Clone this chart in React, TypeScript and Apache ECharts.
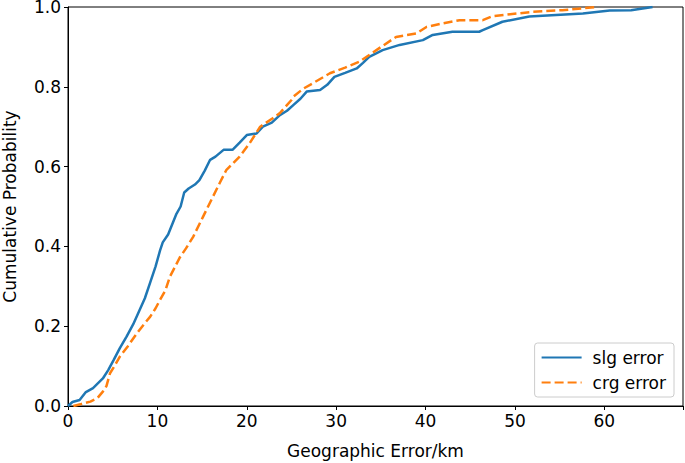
import React, { useEffect, useRef } from "react";
import * as echarts from "echarts";

const slgX = [0, 0.5, 1.3, 2.0, 2.8, 3.9, 4.5, 5.1, 5.8, 6.55, 7.3, 8.0, 8.6, 9.2, 9.8, 10.3, 10.6, 11.2, 12.1, 12.6, 13.0, 13.5, 14.2, 14.7, 15.3, 15.9, 16.5, 17.4, 18.4, 19.2, 20.0, 21.1, 21.8, 22.8, 23.7, 24.5, 25.2, 26.0, 26.7, 28.2, 29.0, 29.8, 31.0, 32.3, 33.0, 33.7, 35.2, 37.1, 39.7, 40.8, 43.0, 46.0, 46.4, 48.6, 51.6, 54.6, 57.6, 60.6, 63.0, 65.4];
const slgY = [0, 0.01, 0.015, 0.035, 0.045, 0.069, 0.09, 0.115, 0.145, 0.174, 0.205, 0.24, 0.27, 0.31, 0.35, 0.39, 0.41, 0.43, 0.48, 0.5, 0.535, 0.545, 0.555, 0.566, 0.59, 0.617, 0.625, 0.642, 0.642, 0.66, 0.679, 0.683, 0.7, 0.71, 0.729, 0.74, 0.754, 0.77, 0.788, 0.792, 0.805, 0.825, 0.835, 0.846, 0.86, 0.875, 0.892, 0.905, 0.917, 0.93, 0.938, 0.938, 0.942, 0.963, 0.976, 0.98, 0.984, 0.991, 0.992, 1.0];

const crgX = [0.6, 1.5, 2.5, 3.3, 3.9, 4.3, 4.7, 5.2, 5.8, 6.7, 7.7, 8.5, 9.2, 9.8, 10.3, 10.9, 11.4, 12.0, 12.5, 13.2, 14.0, 15.1, 16.2, 17.0, 17.7, 19.2, 20.3, 21.5, 22.9, 23.7, 25.0, 25.2, 26.3, 27.4, 29.3, 31.0, 32.6, 34.5, 36.7, 39.0, 40.1, 41.9, 43.8, 46.4, 47.5, 52.0, 55.3, 59.1];
const crgY = [0, 0.005, 0.011, 0.02, 0.036, 0.05, 0.082, 0.1, 0.124, 0.15, 0.182, 0.205, 0.224, 0.245, 0.266, 0.29, 0.324, 0.35, 0.372, 0.395, 0.424, 0.474, 0.524, 0.56, 0.591, 0.625, 0.658, 0.7, 0.721, 0.734, 0.767, 0.775, 0.795, 0.809, 0.834, 0.848, 0.863, 0.892, 0.925, 0.934, 0.95, 0.959, 0.967, 0.967, 0.977, 0.988, 0.992, 1.0];

const seriesNames = ["slg error", "crg error"];
const xTitle = "Geographic Error/km";
const yTitle = "Cumulative Probability";

const FONT = "DejaVu Sans";
const FS = 17;

export default function App() {
  const ref = useRef<HTMLDivElement>(null);
  useEffect(() => {
    if (!ref.current) return;
    const chart = echarts.init(ref.current, undefined, { renderer: "svg" });
    const zip = (xs: number[], ys: number[]) => xs.map((x, i) => [x, ys[i]]);
    chart.setOption({
      animation: false,
      textStyle: { fontFamily: FONT, color: "#000" },
      grid: {
        left: 68,
        right: 2,
        top: 7,
        bottom: 57,
        containLabel: false,
        outerBoundsMode: "none",
        show: true,
        borderColor: "#000",
        borderWidth: 1,
        backgroundColor: "#fff",
      },
      xAxis: {
        type: "value",
        min: 0,
        max: 68.8,
        interval: 10,
        name: xTitle,
        nameLocation: "middle",
        nameGap: 36,
        nameTextStyle: { fontFamily: FONT, fontSize: FS, color: "#000" },
        axisLine: { show: true, lineStyle: { color: "#000", width: 1 } },
        axisTick: { show: true, inside: false, length: 4, lineStyle: { color: "#000" } },
        axisLabel: {
          fontFamily: FONT,
          fontSize: FS,
          color: "#000",
          margin: 6,
          formatter: (v: number) => (v > 65 ? "" : String(v)),
        },
        splitLine: { show: false },
      },
      yAxis: {
        type: "value",
        min: 0,
        max: 1,
        interval: 0.2,
        name: yTitle,
        nameLocation: "middle",
        nameGap: 50,
        nameTextStyle: { fontFamily: FONT, fontSize: FS, color: "#000" },
        axisLine: { show: true, lineStyle: { color: "#000", width: 1 } },
        axisTick: { show: true, inside: false, length: 4, lineStyle: { color: "#000" } },
        axisLabel: {
          fontFamily: FONT,
          fontSize: FS,
          lineHeight: 13,
          color: "#000",
          margin: 7,
          formatter: (v: number) => v.toFixed(1),
        },
        splitLine: { show: false },
      },
      legend: {
        orient: "vertical",
        right: 11,
        bottom: 66,
        padding: [6, 8, 6, 6],
        itemGap: 8,
        itemWidth: 40,
        itemHeight: 18,
        borderColor: "#ccc",
        borderWidth: 1,
        borderRadius: 3,
        backgroundColor: "#fff",
        itemStyle: { opacity: 0 },
        textStyle: { fontFamily: FONT, fontSize: FS, color: "#000", padding: [0, 0, 0, 6] },
        data: seriesNames,
      },
      series: [
        {
          name: seriesNames[0],
          type: "line",
          data: zip(slgX, slgY),
          showSymbol: false,
          symbol: "none",
          lineStyle: { color: "#1f77b4", width: 2.5 },
          itemStyle: { color: "#1f77b4" },
          z: 3,
        },
        {
          name: seriesNames[1],
          type: "line",
          data: zip(crgX, crgY),
          showSymbol: false,
          symbol: "none",
          lineStyle: { color: "#ff7f0e", width: 2.5, type: [9, 4] },
          itemStyle: { color: "#ff7f0e" },
          z: 4,
        },
      ],
    });
    return () => chart.dispose();
  }, []);
  return <div ref={ref} style={{ width: 685, height: 463, position: "absolute", left: 0, top: 0 }} />;
}
